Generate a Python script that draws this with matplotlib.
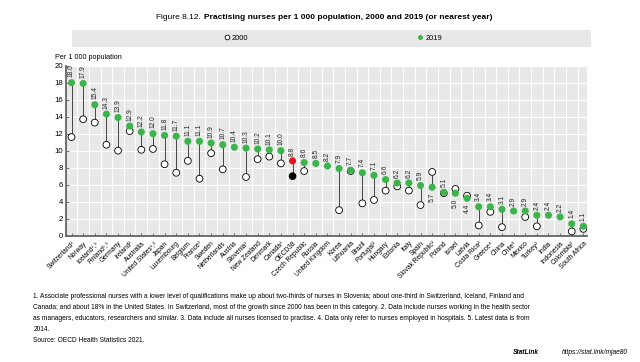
import numpy as np
import matplotlib
matplotlib.use("Agg")
import matplotlib.pyplot as plt
from matplotlib import font_manager
from matplotlib.lines import Line2D
from matplotlib.patches import Rectangle

# data
countries = ["Switzerland¹", "Norway", "Iceland¹,³", "Finland¹,⁵", "Germany", "Ireland²",
             "Australia", "United States¹,²", "Japan", "Luxembourg", "Belgium", "France²",
             "Sweden", "Netherlands", "Austria", "Slovenia¹", "New Zealand", "Denmark",
             "Canada¹", "OECD38", "Czech Republic", "Russia", "United Kingdom", "Korea",
             "Lithuania", "Brazil", "Portugal²", "Hungary", "Estonia", "Italy", "Spain",
             "Slovak Republic²", "Poland", "Israel", "Latvia", "Costa Rica²", "Greece⁴",
             "China", "Chile³", "Mexico", "Turkey²", "India", "Indonesia", "Colombia²",
             "South Africa"]
v2019 = [18.0, 17.9, 15.4, 14.3, 13.9, 12.9, 12.2, 12.0, 11.8, 11.7, 11.1, 11.1,
         10.9, 10.7, 10.4, 10.3, 10.2, 10.1, 10.0, 8.8, 8.6, 8.5, 8.2, 7.9,
         7.7, 7.4, 7.1, 6.6, 6.2, 6.2, 5.9, 5.7, 5.1, 5.0, 4.4, 3.4, 3.4,
         3.1, 2.9, 2.9, 2.4, 2.4, 2.2, 1.4, 1.1]
v2000 = [11.6, 13.7, 13.3, 10.7, 10.0, 12.3, 10.1, 10.2, 8.4, 7.4, 8.8, 6.7,
         9.7, 7.8, np.nan, 6.9, 9.0, 9.3, 8.5, 7.0, 7.6, np.nan, np.nan, 3.0,
         7.6, 3.8, 4.2, 5.3, 5.8, 5.3, 3.6, 7.5, 5.0, 5.5, 4.7, 1.2, 2.8,
         1.0, np.nan, 2.2, 1.1, np.nan, np.nan, 0.5, 0.8]
oecd = "OECD38"

names = {f.name for f in font_manager.fontManager.ttflist}
if "Liberation Sans Narrow" in names:
    base = "Liberation Sans Narrow"
    fs = 5.6
else:
    base = "Liberation Sans"
    fs = 4.8
plt.rcParams["font.family"] = [base, "DejaVu Sans"]

green = "#3cb44b"
bg = "#e8e8e8"

x = np.arange(len(countries))
y19 = np.array(v2019)
y00 = np.array(v2000)
io = countries.index(oecd)

fig = plt.figure(figsize=(6.4, 3.62), dpi=100)
ax = fig.add_axes([0.103, 0.349, 0.814, 0.4696])
ax.set_facecolor(bg)

ok = np.isfinite(y00)
ax.vlines(x[ok], y00[ok], y19[ok], color="#444444", lw=0.7, zorder=2)

fc00 = ["white"] * len(x)
fc00[io] = "black"
fc19 = [green] * len(x)
fc19[io] = "#e8101c"
ax.scatter(x[ok], y00[ok], s=24, c=[fc00[i] for i in x[ok]], edgecolors="black",
           linewidths=0.6, zorder=3)
ax.scatter(x, y19, s=26, c=fc19, edgecolors="none", zorder=4)

for i in x:
    below = ok[i] and y00[i] > y19[i]
    ax.annotate(f"{y19[i]:.1f}", (i, y19[i]), xytext=(0, -3.8 if below else 3.8),
                textcoords="offset points", rotation=90, ha="center",
                va="top" if below else "bottom", fontsize=fs, color="#222222")

ax.set_xlim(-0.48, len(x) - 0.7)
ax.set_ylim(0, 20)
ax.set_yticks(np.arange(0, 21, 2))
ax.set_xticks(x)
ax.set_xticklabels(countries, rotation=45, ha="right", va="top", rotation_mode="anchor",
                   fontsize=fs)
ax.set_xticks(x[:-1] + 0.5, minor=True)
ax.grid(True, which="minor", axis="x", color="white", lw=0.8)
ax.grid(True, which="major", axis="y", color="white", lw=0.8)
ax.set_axisbelow(True)
ax.tick_params(axis="x", which="minor", length=0)
ax.tick_params(axis="both", which="major", direction="in", length=2, width=0.6,
               color="#555555", labelsize=fs + 0.8, pad=2)
ax.tick_params(axis="x", labelsize=fs, pad=3)
for s in ["top", "right"]:
    ax.spines[s].set_visible(False)
for s in ["left", "bottom"]:
    ax.spines[s].set_color("#666666")
    ax.spines[s].set_linewidth(1.3)

# title and legend band
fig.text(0.318, 0.953, "Figure 8.12. ", ha="right", va="center", fontsize=fs + 1.2)
fig.text(0.318, 0.953, "Practising nurses per 1 000 population, 2000 and 2019 (or nearest year)",
         ha="left", va="center", fontsize=fs + 1.2, fontweight="bold")
fig.patches.append(Rectangle((0.113, 0.870), 0.81, 0.047, transform=fig.transFigure,
                             facecolor=bg, edgecolor="none"))
h00 = Line2D([], [], ls="none", marker="o", ms=3.4, mfc="white", mec="black", mew=0.6)
h19 = Line2D([], [], ls="none", marker="o", ms=3.6, mfc=green, mec="none")
fig.legend([h00, h19], ["2000", "2019"], loc="center", bbox_to_anchor=(0.52, 0.894),
           ncol=2, frameon=False, fontsize=fs + 0.6, handlelength=0.8, handletextpad=0.3,
           columnspacing=22.5)
fig.text(0.086, 0.842, "Per 1 000 population", ha="left", va="center", fontsize=fs + 0.4)

notes = ["1. Associate professional nurses with a lower level of qualifications make up about two-thirds of nurses in Slovenia; about one-third in Switzerland, Iceland, Finland and",
         "Canada; and about 18% in the United States. In Switzerland, most of the growth since 2000 has been in this category. 2. Data include nurses working in the health sector",
         "as managers, educators, researchers and similar. 3. Data include all nurses licensed to practise. 4. Data only refer to nurses employed in hospitals. 5. Latest data is from",
         "2014.",
         "Source: OECD Health Statistics 2021."]
for k, line in enumerate(notes):
    fig.text(0.052, 1 - (296 + 11.2 * k) / 362, line, ha="left", va="center", fontsize=fs)

fig.text(0.981, 1 - 352 / 362, "https://stat.link/mjae80", ha="right", va="center",
         fontsize=fs, style="italic")
fig.text(0.842, 1 - 352 / 362, "StatLink", ha="right", va="center", fontsize=fs,
         style="italic", fontweight="bold")

fig.savefig("out.png", dpi=100)
